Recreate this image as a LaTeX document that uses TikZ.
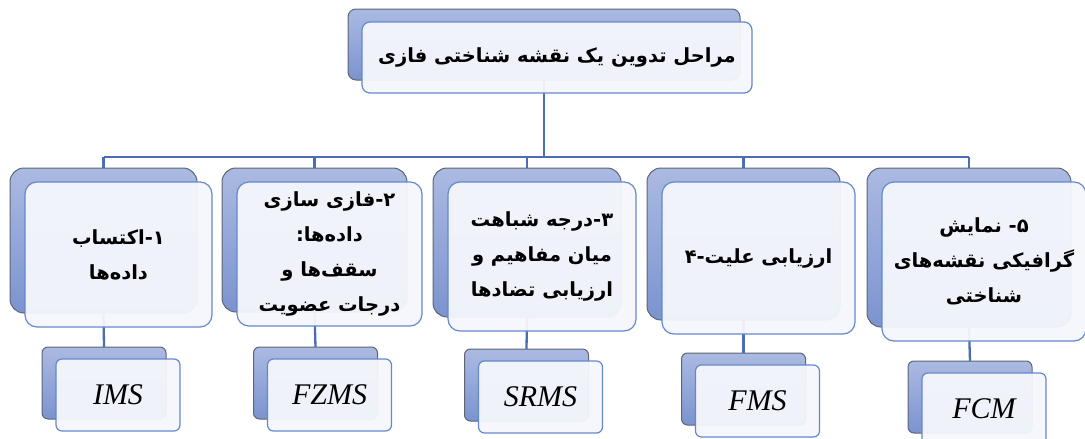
\documentclass[tikz,border=0pt]{standalone}
\usepackage{fontspec}
\usepackage{tikz}
\usetikzlibrary{positioning}
\TeXXeTstate=1
\newfontfamily\arabicfont[Script=Arabic]{DejaVu Sans}
\newfontfamily\latinfont{Liberation Serif}
\definecolor{backtop}{HTML}{ABBAE2}
\definecolor{backbottom}{HTML}{7B93CF}
\definecolor{backedge}{HTML}{5E6573}
\definecolor{frontfill}{HTML}{F5F7FC}
\definecolor{frontedge}{HTML}{6488CC}
\definecolor{linkcol}{HTML}{4A6DB3}

\begin{document}
\begin{tikzpicture}[
        x=1pt, y=-1pt,
        every node/.style={inner sep=0pt, outer sep=0pt},
        backbox/.style={draw=backedge, line width=1pt, rounded corners=14pt,
            top color=backtop, bottom color=backbottom},
        frontbox/.style={draw=frontedge, line width=1.2pt, rounded corners=12pt,
            fill=frontfill, fill opacity=0.95, text opacity=1, align=center,
            font=\arabicfont\bfseries\fontsize{19.5}{35}\selectfont},
        methodback/.style={backbox, rounded corners=6pt,
            minimum width=124pt, minimum height=72pt},
        methodfront/.style={frontbox, rounded corners=6pt,
            minimum width=124pt, minimum height=72pt,
            font=\latinfont\itshape\fontsize{30}{32}\selectfont},
        link/.style={draw=linkcol, line width=2.3pt}
    ]
    \useasboundingbox (0,0) rectangle (1085,439);
    \clip (0,0) rectangle (1085,439);

    % Title (back plate)
    \node[backbox, rounded corners=8pt, minimum width=392pt, minimum height=71pt] (tb) at (544,44.5) {};

    % Steps (back plates)
    \node[backbox, minimum width=187pt, minimum height=145pt] (b1) at (103.5,240.5) {};
    \node[backbox, minimum width=185pt, minimum height=144pt] (b2) at (314.5,240) {};
    \node[backbox, minimum width=188pt, minimum height=149pt] (b3) at (527,242.5) {};
    \node[backbox, minimum width=193pt, minimum height=152pt] (b4) at (743.5,244) {};
    \node[backbox, minimum width=204pt, minimum height=159pt] (b5) at (969,247.5) {};

    % Methods (back plates)
    \node[methodback] (n1) at (104,383) {};
    \node[methodback] (n2) at (315.5,383) {};
    \node[methodback] (n3) at (526.5,385) {};
    \node[methodback] (n4) at (743.5,389) {};
    \node[methodback] (n5) at (970,397) {};

    % Connectors
    \coordinate (hub) at (544,157);
    \draw[link] (tb.south) -- (hub);
    \draw[link] (b1.north |- hub) -- (b5.north |- hub);
    \draw[link] (b1.north |- hub) -- (b1.north);
    \draw[link] (b2.north |- hub) -- (b2.north);
    \draw[link] (b3.north |- hub) -- (b3.north);
    \draw[link] (b4.north |- hub) -- (b4.north);
    \draw[link] (b5.north |- hub) -- (b5.north);
    \draw[link] (b1.south) -- (n1.north);
    \draw[link] (b2.south) -- (n2.north);
    \draw[link] (b3.south) -- (n3.north);
    \draw[link] (b4.south) -- (n4.north);
    \draw[link] (b5.south) -- (n5.north);

    % Title
    \node[frontbox, rounded corners=8pt, minimum width=390pt, minimum height=71pt] (title) at ([shift={(13,13)}]tb.center)
        {\beginR مراحل تدوین یک نقشه شناختی فازی\endR};

    % Steps
    \node[frontbox, minimum width=187pt, minimum height=145pt] (s1) at ([shift={(15,14)}]b1.center)
        {\beginR ۱-اکتساب\endR\\ \beginR داده‌ها\endR};
    \node[frontbox, minimum width=185pt, minimum height=144pt] (s2) at ([shift={(15,14)}]b2.center)
        {\beginR ۲-فازی سازی\endR\\ \beginR داده‌ها:\endR\\ \beginR سقف‌ها و\endR\\ \beginR درجات عضویت\endR};
    \node[frontbox, minimum width=188pt, minimum height=149pt] (s3) at ([shift={(15,14)}]b3.center)
        {\beginR ۳-درجه شباهت\endR\\ \beginR میان مفاهیم و\endR\\ \beginR ارزیابی تضادها\endR};
    \node[frontbox, minimum width=193pt, minimum height=152pt] (s4) at ([shift={(15,14)}]b4.center)
        {\beginR ارزیابی علیت-۴\endR};
    \node[frontbox, minimum width=204pt, minimum height=159pt] (s5) at ([shift={(15,14)}]b5.center)
        {\beginR ۵- نمایش\endR\\ \beginR گرافیکی نقشه‌های\endR\\ \beginR شناختی\endR};

    % Methods
    \node[methodfront] (m1) at ([shift={(14,12)}]n1.center) {IMS};
    \node[methodfront] (m2) at ([shift={(14,12)}]n2.center) {FZMS};
    \node[methodfront] (m3) at ([shift={(14,12)}]n3.center) {SRMS};
    \node[methodfront] (m4) at ([shift={(14,12)}]n4.center) {FMS};
    \node[methodfront] (m5) at ([shift={(14,12)}]n5.center) {FCM};

\end{tikzpicture}
\end{document}
